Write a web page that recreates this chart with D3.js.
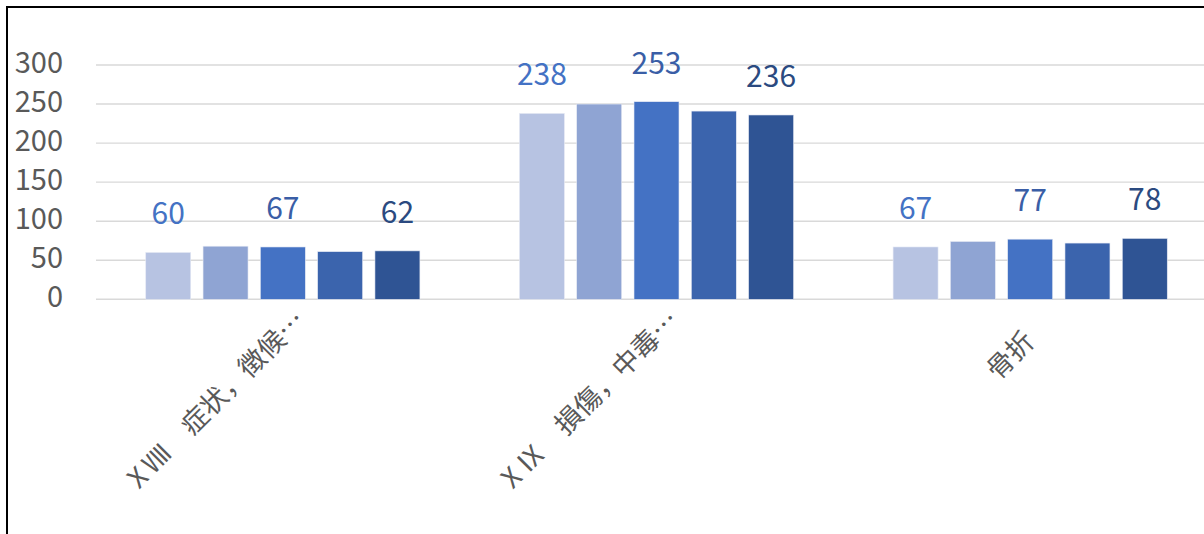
<!DOCTYPE html>
<html>
<head>
<meta charset="utf-8">
<script src="https://cdn.jsdelivr.net/npm/d3@7"></script>
<style>
  html, body { margin: 0; padding: 0; background: #fff; }
  svg { display: block; }
  text { font-family: "Noto Sans CJK JP", "Noto Sans", sans-serif; }
</style>
</head>
<body>
<svg id="chart" width="1204" height="534"></svg>
<script>
// Categories (ICD chapters / injury type)
const categories = ["ⅩⅧ　症状，徴候…", "ⅩⅨ　損傷，中毒…", "骨折"];
// Five series per category
const seriesKeys = ["s1", "s2", "s3", "s4", "s5"];
const s1 = [60, 238, 67];
const s2 = [68, 250, 74];
const s3 = [67, 253, 77];
const s4 = [61, 241, 72];
const s5 = [62, 236, 78];
const seriesValues = [s1, s2, s3, s4, s5];
// Which series carry value labels
const labelledSeries = ["s1", "s3", "s5"];
const yTicks = [0, 50, 100, 150, 200, 250, 300];

const barColors = ["#b7c3e2", "#8fa4d3", "#4472c4", "#3b64ad", "#2f5494"];
const labelColors = { s1: "#4472c4", s3: "#3a5ea6", s5: "#2b4a80" };

const svg = d3.select("#chart");

const y = d3.scaleLinear().domain([0, 300]).range([299.3, 65]);
const x0 = d3.scaleBand().domain(categories).range([96, 1217]).padding(0);
const x1 = d3.scaleBand().domain(seriesKeys)
  .range([-143.25, 143.25]).paddingInner(0.215).paddingOuter(0.1075);

// Frame
svg.append("path")
  .attr("d", "M7,534 V7 H1204")
  .attr("fill", "none").attr("stroke", "#000").attr("stroke-width", 2);

// Gridlines
svg.append("g").selectAll("line").data(yTicks).join("line")
  .attr("x1", 96).attr("x2", 1204)
  .attr("y1", d => y(d)).attr("y2", d => y(d))
  .attr("stroke", "#d9d9d9").attr("stroke-width", 1.4);

// Y axis labels
svg.append("g").selectAll("text").data(yTicks).join("text")
  .attr("x", 63).attr("y", d => y(d) + 8)
  .attr("text-anchor", "end")
  .attr("fill", "#595959").attr("font-size", 29)
  .text(d => d);

// Bars
const groups = svg.append("g").selectAll("g").data(categories).join("g")
  .attr("transform", d => `translate(${x0(d) + x0.bandwidth() / 2},0)`);

groups.selectAll("rect")
  .data((c, ci) => seriesKeys.map((k, si) => ({ key: k, si, value: seriesValues[si][ci] })))
  .join("rect")
  .attr("x", d => x1(d.key))
  .attr("width", x1.bandwidth())
  .attr("y", d => y(d.value))
  .attr("height", d => y(0) - y(d.value))
  .attr("fill", d => barColors[d.si])
  .attr("stroke", "#e6eaf4").attr("stroke-width", 0.6);

// Value labels
groups.selectAll("text.val")
  .data((c, ci) => seriesKeys.map((k, si) => ({ key: k, si, value: seriesValues[si][ci] }))
    .filter(d => labelledSeries.includes(d.key)))
  .join("text").attr("class", "val")
  .attr("x", d => x1(d.key) + x1.bandwidth() / 2)
  .attr("y", d => y(d.value) - 28)
  .attr("text-anchor", "middle")
  .attr("fill", d => labelColors[d.key]).attr("font-size", 30)
  .text(d => d.value);

// Category labels, rotated; truncated labels sit a little higher
svg.append("g").selectAll("text").data(categories).join("text")
  .attr("transform", d => {
    const cx = x0(d) + x0.bandwidth() / 2;
    const truncated = d.endsWith("…");
    return `translate(${cx + (truncated ? 24 : 6)},${truncated ? 322 : 343}) rotate(-45)`;
  })
  .attr("text-anchor", "end")
  .attr("fill", "#595959").attr("font-size", 27)
  .text(d => d);
</script>
</body>
</html>
